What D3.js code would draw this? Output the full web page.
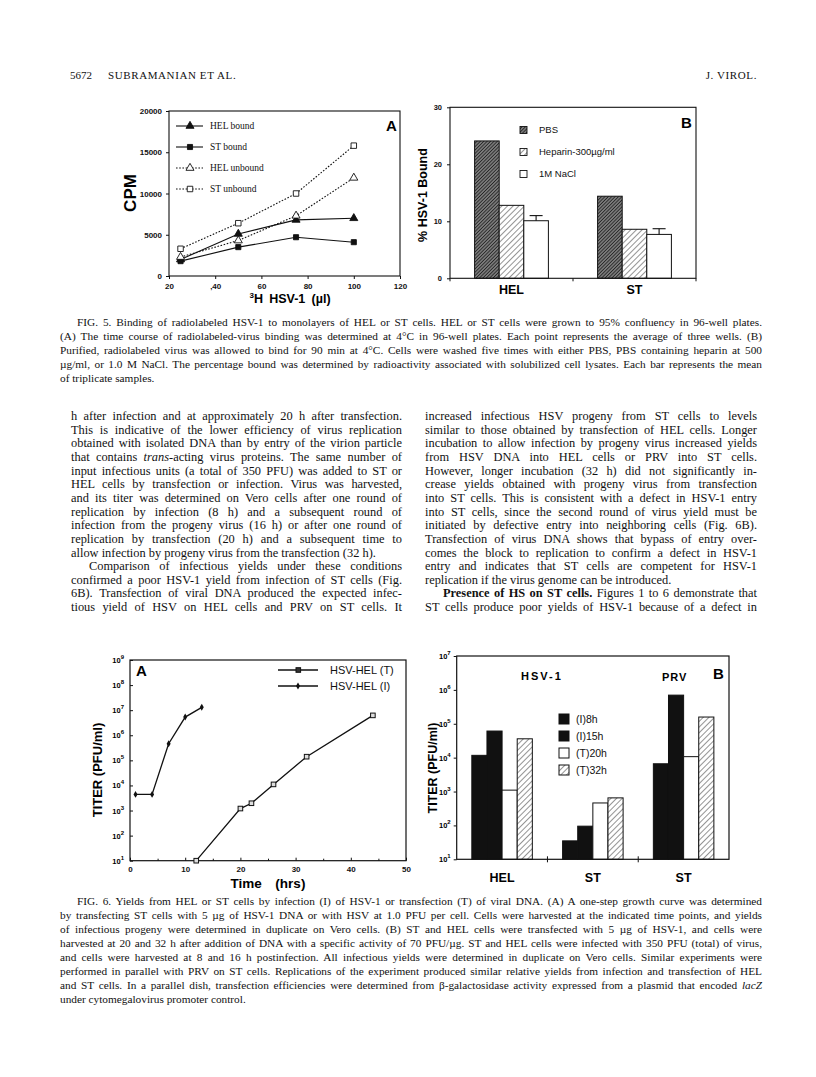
<!DOCTYPE html>
<html>
<head>
<meta charset="utf-8">
<script src="https://cdn.jsdelivr.net/npm/d3@7"></script>
<style>
  body { margin: 0; background: #fff; }
  svg { display: block; }
</style>
</head>
<body>
<div id="page"></div>
<script>
'use strict';

// ---------- Fig 5A data ----------
const volumes = [25, 50, 75, 100];
const helBound = [2000, 5100, 6800, 7000];
const stBound = [1800, 3500, 4700, 4100];
const helUnbound = [2300, 4300, 7300, 11900];
const stUnbound = [3300, 6400, 10000, 15800];
const cpmTicks = [0, 5000, 10000, 15000, 20000];
const volTicks = [20, 40, 60, 80, 100, 120];
const volTickLabels = ["20", ",40", "60", "80", "100", "120"];

// ---------- Fig 5B data ----------
const cellTypes = ["HEL", "ST"];
const washes = ["PBS", "Heparin-300\u00b5g/ml", "1M NaCl"];
const pctPBS = [24.1, 14.4];
const pctHeparin = [12.8, 8.6];
const pctNaCl = [10.1, 7.7];
const errNaCl = [0.9, 1.0];
const pctTicks = [0, 10, 20, 30];

// ---------- Fig 6A data ----------
const timeT = [12, 20, 22, 26, 32, 44];
const titerT = [10, 1.2e3, 1.95e3, 1.1e4, 1.4e5, 6.2e6];
const timeI = [1, 4, 7, 10, 13];
const titerI = [4.4e3, 4.4e3, 4.6e5, 5.3e6, 1.3e7];
const timeTicks = [0, 10, 20, 30, 40, 50];
const titerTicksA = [1e1, 1e2, 1e3, 1e4, 1e5, 1e6, 1e7, 1e8, 1e9];

// ---------- Fig 6B data ----------
const groupKeys = ["hel", "st", "prv"];
const groupLabels = ["HEL", "ST", "ST"];
const conditions = ["(I)8h", "(I)15h", "(T)20h", "(T)32h"];
const yieldHEL = [1.17e4, 6.1e4, 1.1e3, 3.6e4];
const yieldST = [35, 95, 460, 650];
const yieldPRV = [6.6e3, 7.0e5, 1.07e4, 1.58e5];
const titerTicksB = [1e1, 1e2, 1e3, 1e4, 1e5, 1e6, 1e7];

// ---------- page text ----------
const captionFig5 = [
  ">FIG. 5. Binding of radiolabeled HSV-1 to monolayers of HEL or ST cells. HEL or ST cells were grown to 95% confluency in 96-well plates.",
  "(A) The time course of radiolabeled-virus binding was determined at 4\u00b0C in 96-well plates. Each point represents the average of three wells. (B)",
  "Purified, radiolabeled virus was allowed to bind for 90 min at 4\u00b0C. Cells were washed five times with either PBS, PBS containing heparin at 500",
  "\u00b5g/ml, or 1.0 M NaCl. The percentage bound was determined by radioactivity associated with solubilized cell lysates. Each bar represents the mean",
  "of triplicate samples.|"
];
const captionFig6 = [
  ">FIG. 6. Yields from HEL or ST cells by infection (I) of HSV-1 or transfection (T) of viral DNA. (A) A one-step growth curve was determined",
  "by transfecting ST cells with 5 \u00b5g of HSV-1 DNA or with HSV at 1.0 PFU per cell. Cells were harvested at the indicated time points, and yields",
  "of infectious progeny were determined in duplicate on Vero cells. (B) ST and HEL cells were transfected with 5 \u00b5g of HSV-1, and cells were",
  "harvested at 20 and 32 h after addition of DNA with a specific activity of 70 PFU/\u00b5g. ST and HEL cells were infected with 350 PFU (total) of virus,",
  "and cells were harvested at 8 and 16 h postinfection. All infectious yields were determined in duplicate on Vero cells. Similar experiments were",
  "performed in parallel with PRV on ST cells. Replications of the experiment produced similar relative yields from infection and transfection of HEL",
  "and ST cells. In a parallel dish, transfection efficiencies were determined from \u03b2-galactosidase activity expressed from a plasmid that encoded _lacZ_",
  "under cytomegalovirus promoter control.|"
];
const leftCol = [
  "h after infection and at approximately 20 h after transfection.",
  "This is indicative of the lower efficiency of virus replication",
  "obtained with isolated DNA than by entry of the virion particle",
  "that contains _trans_-acting virus proteins. The same number of",
  "input infectious units (a total of 350 PFU) was added to ST or",
  "HEL cells by transfection or infection. Virus was harvested,",
  "and its titer was determined on Vero cells after one round of",
  "replication by infection (8 h) and a subsequent round of",
  "infection from the progeny virus (16 h) or after one round of",
  "replication by transfection (20 h) and a subsequent time to",
  "allow infection by progeny virus from the transfection (32 h).|",
  ">Comparison of infectious yields under these conditions",
  "confirmed a poor HSV-1 yield from infection of ST cells (Fig.",
  "6B). Transfection of viral DNA produced the expected infec-",
  "tious yield of HSV on HEL cells and PRV on ST cells. It"
];
const rightCol = [
  "increased infectious HSV progeny from ST cells to levels",
  "similar to those obtained by transfection of HEL cells. Longer",
  "incubation to allow infection by progeny virus increased yields",
  "from HSV DNA into HEL cells or PRV into ST cells.",
  "However, longer incubation (32 h) did not significantly in-",
  "crease yields obtained with progeny virus from transfection",
  "into ST cells. This is consistent with a defect in HSV-1 entry",
  "into ST cells, since the second round of virus yield must be",
  "initiated by defective entry into neighboring cells (Fig. 6B).",
  "Transfection of virus DNA shows that bypass of entry over-",
  "comes the block to replication to confirm a defect in HSV-1",
  "entry and indicates that ST cells are competent for HSV-1",
  "replication if the virus genome can be introduced.|",
  ">*Presence of HS on ST cells.* Figures 1 to 6 demonstrate that",
  "ST cells produce poor yields of HSV-1 because of a defect in"
];

const SERIF = '"Liberation Serif", "Times New Roman", serif';
const SANS = '"Liberation Sans", Arial, Helvetica, sans-serif';

var svg = d3.select('#page').append('svg')
  .attr('width', 816).attr('height', 1077)
  .style('background', '#fff');

// patterns for the hatched bars
var defs = svg.append('defs');
var pbs = defs.append('pattern').attr('id', 'pbs').attr('patternUnits', 'userSpaceOnUse')
  .attr('width', 2.4).attr('height', 2.4).attr('patternTransform', 'rotate(45)');
pbs.append('rect').attr('width', 2.4).attr('height', 2.4).attr('fill', '#7a7a7a');
pbs.append('line').attr('x1', 0).attr('y1', 0).attr('x2', 0).attr('y2', 2.4)
  .attr('stroke', '#111').attr('stroke-width', 1.3);
var hatch = defs.append('pattern').attr('id', 'hatch').attr('patternUnits', 'userSpaceOnUse')
  .attr('width', 4).attr('height', 4).attr('patternTransform', 'rotate(45)');
hatch.append('rect').attr('width', 4).attr('height', 4).attr('fill', '#fff');
hatch.append('line').attr('x1', 0).attr('y1', 0).attr('x2', 0).attr('y2', 4)
  .attr('stroke', '#111').attr('stroke-width', 0.9);

/**
 * Write one line of text. '>' at the start indents it, '|' at the end stops
 * justification, *bold* and _italic_ become tspans. Justified lines get their
 * word spacing stretched to fill the column.
 */
function addLine(g, x, y, str, width, size, indent) {
  var ind = 0, justify = true;
  if (str.startsWith('>')) { ind = indent; str = str.slice(1); }
  if (str.endsWith('|')) { justify = false; str = str.slice(0, -1); }
  var t = g.append('text').attr('x', x + ind).attr('y', y)
    .attr('font-family', SERIF).attr('font-size', size).attr('fill', '#111');
  str.split(/(\*[^*]+\*|_[^_]+_)/).filter(function(s) { return s.length; }).forEach(function(s) {
    var ts = t.append('tspan');
    if (s[0] === '*') ts.attr('font-weight', 'bold').text(s.slice(1, -1));
    else if (s[0] === '_') ts.attr('font-style', 'italic').text(s.slice(1, -1));
    else ts.text(s);
  });
  if (justify) {
    var natural = t.node().getComputedTextLength();
    var spaces = (str.match(/ /g) || []).length;
    var extra = (width - ind - natural) / Math.max(spaces, 1);
    if (extra >= -0.8) t.attr('word-spacing', extra);
    else t.attr('textLength', width - ind).attr('lengthAdjust', 'spacing');
  }
}

function addBlock(lines, x, y0, lead, width, size, indent) {
  var g = svg.append('g');
  lines.forEach(function(l, i) { addLine(g, x, y0 + i * lead, l, width, size, indent); });
}

// power-of-ten tick label with superscript
function powLabel(g, x, y, value) {
  var t = g.append('text').attr('x', x).attr('y', y + 3)
    .attr('text-anchor', 'end').attr('font-family', SANS)
    .attr('font-size', 7.5).attr('font-weight', 'bold');
  t.append('tspan').text('10');
  t.append('tspan').attr('dy', -4).attr('font-size', 6).text(Math.round(Math.log10(value)));
}

function styleAxis(sel, size) {
  sel.attr('font-family', SANS).attr('font-size', size).attr('font-weight', 'bold');
  sel.select('.domain').remove();
  sel.selectAll('line').attr('stroke', '#111');
  sel.selectAll('text').attr('fill', '#111');
}

// ---------- header ----------
var hdr = svg.append('g').attr('font-family', SERIF).attr('font-size', 11).attr('fill', '#111');
hdr.append('text').attr('x', 70).attr('y', 79).text('5672');
hdr.append('text').attr('x', 108).attr('y', 79).attr('letter-spacing', 0.6).text('SUBRAMANIAN ET AL.');
hdr.append('text').attr('x', 757).attr('y', 79).attr('text-anchor', 'end').attr('letter-spacing', 0.6).text('J. VIROL.');

// ---------- Fig 5A ----------
var x5a = d3.scaleLinear().domain([20, 120]).range([169, 400]);
var y5a = d3.scaleLinear().domain([0, 20000]).range([276, 111]);
var g5a = svg.append('g');

g5a.append('g').attr('transform', 'translate(0,' + y5a(0) + ')')
  .call(d3.axisBottom(x5a).tickValues(volTicks).tickSizeInner(3).tickSizeOuter(0).tickPadding(4)
    .tickFormat(function(d, i) { return volTickLabels[i]; }))
  .call(styleAxis, 8);
g5a.append('g').attr('transform', 'translate(' + x5a(20) + ',0)')
  .call(d3.axisLeft(y5a).tickValues(cpmTicks).tickSizeInner(3).tickSizeOuter(0).tickPadding(4)
    .tickFormat(d3.format('d')))
  .call(styleAxis, 8);
g5a.append('rect').attr('x', x5a(20)).attr('y', y5a(20000))
  .attr('width', x5a(120) - x5a(20)).attr('height', y5a(0) - y5a(20000))
  .attr('fill', 'none').attr('stroke', '#111').attr('stroke-width', 1.1);

var series5a = [
  {name: 'HEL bound', vals: helBound, sym: d3.symbolTriangle, size: 28, filled: true, dash: null},
  {name: 'ST bound', vals: stBound, sym: d3.symbolSquare, size: 26, filled: true, dash: null},
  {name: 'HEL unbound', vals: helUnbound, sym: d3.symbolTriangle, size: 28, filled: false, dash: '1.6,1.6'},
  {name: 'ST unbound', vals: stUnbound, sym: d3.symbolSquare, size: 30, filled: false, dash: '1.6,1.6'}
];
var line5a = d3.line()
  .x(function(d, i) { return x5a(volumes[i]); })
  .y(function(d) { return y5a(d); });

series5a.forEach(function(s, k) {
  g5a.append('path').datum(s.vals).attr('d', line5a)
    .attr('fill', 'none').attr('stroke', '#111').attr('stroke-width', 1.1)
    .attr('stroke-dasharray', s.dash);
  g5a.selectAll('.m' + k).data(s.vals).enter().append('path')
    .attr('transform', function(d, i) { return 'translate(' + x5a(volumes[i]) + ',' + y5a(d) + ')'; })
    .attr('d', d3.symbol(s.sym, s.size))
    .attr('fill', s.filled ? '#111' : '#fff').attr('stroke', '#111').attr('stroke-width', 0.9);

  // legend row
  var ly = 126 + k * 21;
  g5a.append('line').attr('x1', 176).attr('x2', 203).attr('y1', ly).attr('y2', ly)
    .attr('stroke', '#111').attr('stroke-width', 1.1).attr('stroke-dasharray', s.dash);
  g5a.append('path').attr('transform', 'translate(190,' + ly + ')')
    .attr('d', d3.symbol(s.sym, s.size))
    .attr('fill', s.filled ? '#111' : '#fff').attr('stroke', '#111').attr('stroke-width', 0.9);
  g5a.append('text').attr('x', 210).attr('y', ly + 3)
    .attr('font-family', SERIF).attr('font-size', 9.5).attr('fill', '#111').text(s.name);
});

g5a.append('text').attr('x', 386).attr('y', 131)
  .attr('font-family', SANS).attr('font-size', 15).attr('font-weight', 'bold').text('A');
g5a.append('text').attr('transform', 'translate(136,193) rotate(-90)')
  .attr('text-anchor', 'middle').attr('font-family', SANS).attr('font-size', 17)
  .attr('font-weight', 'bold').text('CPM');
var xl5a = g5a.append('text').attr('x', 290).attr('y', 303).attr('text-anchor', 'middle')
  .attr('font-family', SANS).attr('font-size', 12.5).attr('font-weight', 'bold');
xl5a.append('tspan').attr('font-size', 8).attr('dy', -5).text('3');
xl5a.append('tspan').attr('dy', 5).text('H\u2002HSV-1\u2002(\u00b5l)');

// ---------- Fig 5B ----------
var y5b = d3.scaleLinear().domain([0, 30]).range([278.3, 107.3]);
var x5b = d3.scaleBand().domain(cellTypes).range([450, 696]);
var x5bIn = d3.scaleBand().domain(washes).range([0, x5b.bandwidth()]).paddingOuter(1);
var g5b = svg.append('g');

g5b.append('g').attr('transform', 'translate(' + x5b.range()[0] + ',0)')
  .call(d3.axisLeft(y5b).tickValues(pctTicks).tickSizeInner(3).tickSizeOuter(0).tickPadding(5))
  .call(styleAxis, 7.5);
// small ticks at the group edges on the bottom axis
g5b.selectAll('.gt').data([0, 1, 2]).enter().append('line')
  .attr('x1', function(d) { return x5b.range()[0] + d * x5b.step(); })
  .attr('x2', function(d) { return x5b.range()[0] + d * x5b.step(); })
  .attr('y1', y5b(0)).attr('y2', y5b(0) + 3).attr('stroke', '#111');

var fill5b = ['url(#pbs)', 'url(#hatch)', '#fff'];
var vals5b = [pctPBS, pctHeparin, pctNaCl];
cellTypes.forEach(function(c, ci) {
  washes.forEach(function(w, wi) {
    var v = vals5b[wi][ci];
    g5b.append('rect')
      .attr('x', x5b(c) + x5bIn(w)).attr('y', y5b(v))
      .attr('width', x5bIn.bandwidth()).attr('height', y5b(0) - y5b(v))
      .attr('fill', fill5b[wi]).attr('stroke', '#111').attr('stroke-width', 1);
  });
  // error bar on the NaCl bar
  var cx = x5b(c) + x5bIn(washes[2]) + x5bIn.bandwidth() / 2;
  var top = y5b(pctNaCl[ci] + errNaCl[ci]);
  g5b.append('line').attr('x1', cx).attr('x2', cx).attr('y1', y5b(pctNaCl[ci])).attr('y2', top)
    .attr('stroke', '#111').attr('stroke-width', 1.1);
  g5b.append('line').attr('x1', cx - 6.5).attr('x2', cx + 6.5).attr('y1', top).attr('y2', top)
    .attr('stroke', '#111').attr('stroke-width', 1.1);
  g5b.append('text').attr('x', x5b(c) + x5b.bandwidth() / 2).attr('y', 294)
    .attr('text-anchor', 'middle').attr('font-family', SANS).attr('font-size', 12.5)
    .attr('font-weight', 'bold').text(c);
});
g5b.append('rect').attr('x', 450).attr('y', y5b(30)).attr('width', 246).attr('height', y5b(0) - y5b(30))
  .attr('fill', 'none').attr('stroke', '#111').attr('stroke-width', 1.1);

washes.forEach(function(w, wi) {
  var ly = 130 + wi * 22;
  g5b.append('rect').attr('x', 520).attr('y', ly - 3.5).attr('width', 7).attr('height', 7)
    .attr('fill', fill5b[wi]).attr('stroke', '#111').attr('stroke-width', 0.9);
  g5b.append('text').attr('x', 539).attr('y', ly + 3).attr('font-family', SANS)
    .attr('font-size', 9.5).attr('fill', '#111').text(w);
});
g5b.append('text').attr('x', 681).attr('y', 128)
  .attr('font-family', SANS).attr('font-size', 15).attr('font-weight', 'bold').text('B');
g5b.append('text').attr('transform', 'translate(427,195) rotate(-90)')
  .attr('text-anchor', 'middle').attr('font-family', SANS).attr('font-size', 12.5)
  .attr('font-weight', 'bold').text('% HSV-1  Bound');

// ---------- Fig 6A ----------
var x6a = d3.scaleLinear().domain([0, 50]).range([130, 406]);
var y6a = d3.scaleLog().domain([10, 1e9]).range([860.7, 660]);
var g6a = svg.append('g');

g6a.append('g').attr('transform', 'translate(0,' + y6a(10) + ')')
  .call(d3.axisBottom(x6a).tickValues(timeTicks).tickSizeInner(-3).tickSizeOuter(0).tickPadding(6))
  .call(styleAxis, 8);
g6a.append('g').attr('transform', 'translate(0,' + y6a(10) + ')')
  .call(d3.axisBottom(x6a).tickValues(d3.range(5, 50, 10)).tickSizeInner(-2).tickSizeOuter(0).tickFormat(''))
  .call(styleAxis, 8);
g6a.append('g').attr('transform', 'translate(' + x6a(0) + ',0)')
  .call(d3.axisLeft(y6a).tickValues(titerTicksA).tickSizeInner(-3).tickSizeOuter(0).tickFormat(''))
  .call(styleAxis, 8);
titerTicksA.forEach(function(v) { powLabel(g6a, x6a(0) - 6, y6a(v), v); });
g6a.append('rect').attr('x', x6a(0)).attr('y', y6a(1e9))
  .attr('width', x6a(50) - x6a(0)).attr('height', y6a(10) - y6a(1e9))
  .attr('fill', 'none').attr('stroke', '#111').attr('stroke-width', 1.2);

var lineT = d3.line().x(function(d, i) { return x6a(timeT[i]); }).y(function(d) { return y6a(d); });
var lineI = d3.line().x(function(d, i) { return x6a(timeI[i]); }).y(function(d) { return y6a(d); });
g6a.append('path').datum(titerT).attr('d', lineT).attr('fill', 'none')
  .attr('stroke', '#111').attr('stroke-width', 1.3);
g6a.append('path').datum(titerI).attr('d', lineI).attr('fill', 'none')
  .attr('stroke', '#111').attr('stroke-width', 1.3);
g6a.selectAll('.mt').data(titerT).enter().append('rect')
  .attr('x', function(d, i) { return x6a(timeT[i]) - 2.3; })
  .attr('y', function(d) { return y6a(d) - 2.3; })
  .attr('width', 4.6).attr('height', 4.6)
  .attr('fill', '#ddd').attr('stroke', '#111').attr('stroke-width', 1);
g6a.selectAll('.mi').data(titerI).enter().append('path')
  .attr('transform', function(d, i) { return 'translate(' + x6a(timeI[i]) + ',' + y6a(d) + ')'; })
  .attr('d', d3.symbol(d3.symbolDiamond, 14)).attr('fill', '#111');

// legend
[['HSV-HEL (T)', 'sq'], ['HSV-HEL (I)', 'dot']].forEach(function(l, i) {
  var ly = 670 + i * 16;
  g6a.append('line').attr('x1', 278).attr('x2', 318).attr('y1', ly).attr('y2', ly)
    .attr('stroke', '#111').attr('stroke-width', 1.3);
  if (l[1] === 'sq') {
    g6a.append('rect').attr('x', 296).attr('y', ly - 2.3).attr('width', 4.6).attr('height', 4.6)
      .attr('fill', '#333').attr('stroke', '#111');
  } else {
    g6a.append('path').attr('transform', 'translate(298,' + ly + ')')
      .attr('d', d3.symbol(d3.symbolDiamond, 14)).attr('fill', '#111');
  }
  g6a.append('text').attr('x', 330).attr('y', ly + 4).attr('font-family', SANS)
    .attr('font-size', 11).attr('fill', '#111').text(l[0]);
});
g6a.append('text').attr('x', 136).attr('y', 676)
  .attr('font-family', SANS).attr('font-size', 15).attr('font-weight', 'bold').text('A');
g6a.append('text').attr('transform', 'translate(102,770) rotate(-90)')
  .attr('text-anchor', 'middle').attr('font-family', SANS).attr('font-size', 13)
  .attr('font-weight', 'bold').text('TITER  (PFU/ml)');
g6a.append('text').attr('x', 268).attr('y', 888).attr('text-anchor', 'middle')
  .attr('font-family', SANS).attr('font-size', 13.5).attr('font-weight', 'bold')
  .text('Time\u2003(hrs)');

// ---------- Fig 6B ----------
var y6b = d3.scaleLog().domain([10, 1e7]).range([859.3, 656]);
var x6b = d3.scaleBand().domain(groupKeys).range([456.7, 729]);
var x6bIn = d3.scaleBand().domain(conditions).range([0, x6b.bandwidth()]).paddingOuter(1);
var g6b = svg.append('g');

g6b.append('g').attr('transform', 'translate(' + x6b.range()[0] + ',0)')
  .call(d3.axisLeft(y6b).tickValues(titerTicksB).tickSizeInner(3).tickSizeOuter(0).tickFormat(''))
  .call(styleAxis, 8);
titerTicksB.forEach(function(v) { powLabel(g6b, x6b.range()[0] - 6, y6b(v), v); });
g6b.selectAll('.gt').data([1, 2]).enter().append('line')
  .attr('x1', function(d) { return x6b.range()[0] + d * x6b.step(); })
  .attr('x2', function(d) { return x6b.range()[0] + d * x6b.step(); })
  .attr('y1', y6b(10) - 3).attr('y2', y6b(10) + 3).attr('stroke', '#111');

var fill6b = ['#111', '#111', '#fff', 'url(#hatch)'];
var vals6b = [yieldHEL, yieldST, yieldPRV];
groupKeys.forEach(function(gk, gi) {
  g6b.selectAll('.b' + gi).data(vals6b[gi]).enter().append('rect')
    .attr('x', function(d, i) { return x6b(gk) + x6bIn(conditions[i]); })
    .attr('y', function(d) { return y6b(d); })
    .attr('width', x6bIn.bandwidth())
    .attr('height', function(d) { return y6b(10) - y6b(d); })
    .attr('fill', function(d, i) { return fill6b[i]; })
    .attr('stroke', '#111').attr('stroke-width', 1);
  g6b.append('text').attr('x', x6b(gk) + x6b.bandwidth() / 2).attr('y', 882)
    .attr('text-anchor', 'middle').attr('font-family', SANS).attr('font-size', 12.5)
    .attr('font-weight', 'bold').text(groupLabels[gi]);
});
g6b.append('rect').attr('x', x6b.range()[0]).attr('y', y6b(1e7))
  .attr('width', x6b.range()[1] - x6b.range()[0]).attr('height', y6b(10) - y6b(1e7))
  .attr('fill', 'none').attr('stroke', '#111').attr('stroke-width', 1.2);

conditions.forEach(function(c, i) {
  var ly = 719 + i * 17;
  g6b.append('rect').attr('x', 559).attr('y', ly - 5).attr('width', 10).attr('height', 10)
    .attr('fill', fill6b[i]).attr('stroke', '#111').attr('stroke-width', 1);
  g6b.append('text').attr('x', 576).attr('y', ly + 4).attr('font-family', SANS)
    .attr('font-size', 10.5).attr('fill', '#111').text(c);
});
g6b.append('text').attr('x', 521).attr('y', 680).attr('font-family', SANS).attr('font-size', 11)
  .attr('font-weight', 'bold').attr('letter-spacing', 2).text('HSV-1');
g6b.append('text').attr('x', 662).attr('y', 681).attr('font-family', SANS).attr('font-size', 11)
  .attr('font-weight', 'bold').attr('letter-spacing', 1).text('PRV');
g6b.append('text').attr('x', 713).attr('y', 679)
  .attr('font-family', SANS).attr('font-size', 15).attr('font-weight', 'bold').text('B');
g6b.append('text').attr('transform', 'translate(437,768) rotate(-90)')
  .attr('text-anchor', 'middle').attr('font-family', SANS).attr('font-size', 12.5)
  .attr('font-weight', 'bold').text('TITER  (PFU/ml)');

// ---------- captions and body text ----------
addBlock(captionFig5, 60, 325.5, 14, 702, 11.3, 17);
addBlock(leftCol, 71, 420, 13.65, 331, 12.4, 18);
addBlock(rightCol, 425, 420, 13.65, 332, 12.4, 18);
addBlock(captionFig6, 60, 904.5, 14, 702, 11.3, 17);
</script>
</body>
</html>
